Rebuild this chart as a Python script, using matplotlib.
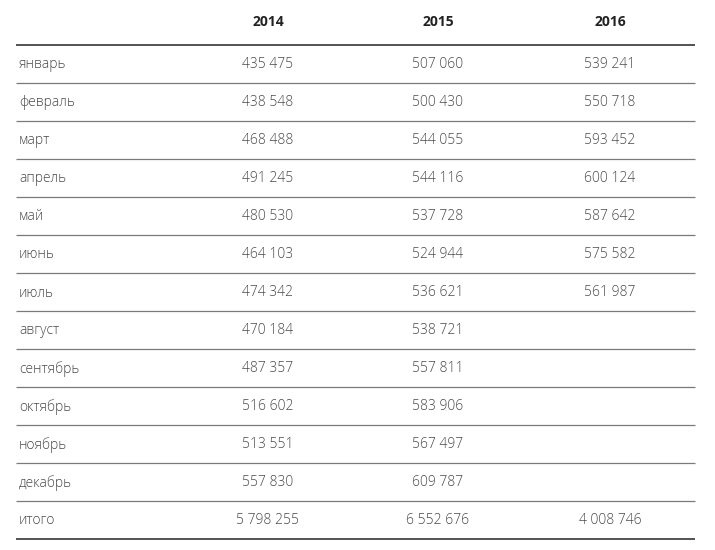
import matplotlib.pyplot as plt
from matplotlib import font_manager

# данные таблицы
years = ["2014", "2015", "2016"]
months = ["январь", "февраль", "март", "апрель", "май", "июнь", "июль",
          "август", "сентябрь", "октябрь", "ноябрь", "декабрь"]
v2014 = [435475, 438548, 468488, 491245, 480530, 464103, 474342,
         470184, 487357, 516602, 513551, 557830]
v2015 = [507060, 500430, 544055, 544116, 537728, 524944, 536621,
         538721, 557811, 583906, 567497, 609787]
v2016 = [539241, 550718, 593452, 600124, 587642, 575582, 561987]
total_label = "итого"
totals = [5798255, 6552676, 4008746]


def fmt(v):
    return f"{v:,}".replace(",", " ")


fams = {f.name for f in font_manager.fontManager.ttflist}
body_font = "Open Sans" if "Open Sans" in fams else "DejaVu Sans"
plt.rcParams["font.family"] = [body_font, "DejaVu Sans"]

fig = plt.figure(figsize=(7.15, 5.5), dpi=100)
ax = fig.add_axes([0, 0, 1, 1])
ax.set_xlim(0, 715)
ax.set_ylim(550, 0)
ax.axis("off")

x_left, x_right = 16, 695
col_x = [268, 438, 610]
label_x = 19
header_y = 22
first_line = 45
row_h = 38

# заголовок
for x, y in zip(col_x, years):
    ax.text(x, header_y, y, ha="center", va="center", fontsize=10,
            fontweight="bold", color="#222222", fontstretch="condensed")

columns = [v2014, v2015, v2016]
rows = []
for i, m in enumerate(months):
    vals = [c[i] if i < len(c) else None for c in columns]
    rows.append((m, vals))
rows.append((total_label, totals))

n = len(rows)
for i in range(n + 1):
    y = first_line + i * row_h
    dark = i == 0 or i == n
    ax.plot([x_left, x_right], [y, y], color="#444444" if dark else "#7a7a7a",
            lw=1.3 if dark else 0.9, solid_capstyle="butt")

for i, (label, vals) in enumerate(rows):
    yc = first_line + i * row_h + row_h / 2 + 1
    ax.text(label_x, yc, label, ha="left", va="center", fontsize=10,
            color="#4a4a4a", fontweight="light")
    for x, v in zip(col_x, vals):
        if v is None:
            continue
        ax.text(x, yc, fmt(v), ha="center", va="center", fontsize=10,
                color="#4a4a4a", fontweight="light")

fig.savefig("out.png", dpi=100, facecolor="white")
